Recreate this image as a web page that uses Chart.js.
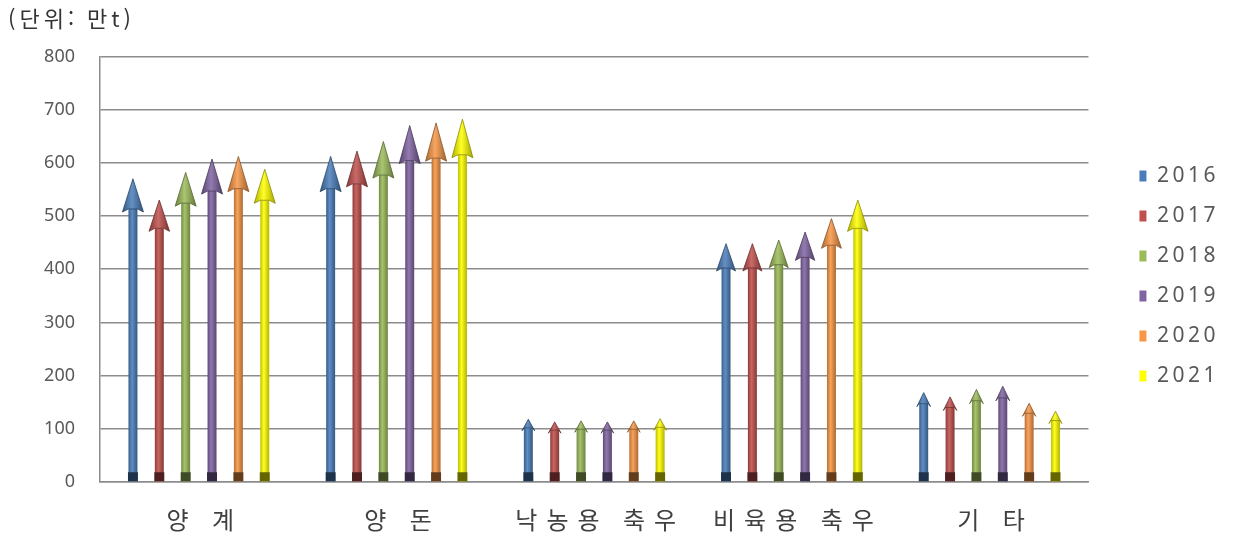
<!DOCTYPE html>
<html lang="ko">
<head>
<meta charset="utf-8">
<title>축종별 가축분뇨 발생량</title>
<script src="https://cdn.jsdelivr.net/npm/chart.js@4.4.1/dist/chart.umd.min.js"></script>
<style>
  html, body { margin: 0; padding: 0; background: #ffffff; }
  #wrap { width: 1234px; height: 536px; position: relative; }
</style>
</head>
<body>
<div id="wrap"><canvas id="chart"></canvas></div>
<script>
// chart data (unit: 만t)
const categories = ['양 계', '양 돈', '낙농용 축우', '비육용 축우', '기 타'];
const years = ['2016', '2017', '2018', '2019', '2020', '2021'];
const v2016 = [570, 612, 118, 448, 168];
const v2017 = [530, 622, 113, 448, 160];
const v2018 = [582, 640, 115, 455, 174];
const v2019 = [607, 670, 113, 470, 180];
const v2020 = [612, 675, 115, 495, 148];
const v2021 = [588, 682, 119, 530, 133];
const yTicks = [0, 100, 200, 300, 400, 500, 600, 700, 800];

const seriesValues = [v2016, v2017, v2018, v2019, v2020, v2021];
const colors = ['#4A7EBB', '#C0504D', '#9BBB59', '#8064A2', '#F79646', '#FFFF00'];

const gridColor = '#8c8c8c';
const textColor = '#595959';

// mix a hex colour with black (amt < 0) or white (amt > 0)
function shade(hex, amt) {
    const n = parseInt(hex.slice(1), 16);
    let r = (n >> 16) & 255, g = (n >> 8) & 255, b = n & 255;
    const t = amt < 0 ? 0 : 255;
    const p = Math.abs(amt);
    r = Math.round(r + (t - r) * p);
    g = Math.round(g + (t - g) * p);
    b = Math.round(b + (t - b) * p);
    return `rgb(${r}, ${g}, ${b})`;
}

// draws every bar of the chart as an arrow, using the bar elements' own geometry
const arrowPlugin = {
    id: 'arrowBars',
    beforeDatasetDraw() {
        return false; // skip default rectangles, arrows are drawn below
    },
    afterDatasetsDraw(chart) {
        const ctx = chart.ctx;
        chart.data.datasets.forEach((ds, di) => {
            const meta = chart.getDatasetMeta(di);
            if (meta.hidden) return;
            const col = ds.backgroundColor;
            meta.data.forEach(bar => {
                const { x, y, base, width } = bar.getProps(['x', 'y', 'base', 'width'], true);
                const len = base - y;
                const hh = 6 + len * 0.09;
                const hw = Math.min(10.5, 4 + hh * 0.2);
                const sw = width / 2;

                ctx.save();
                // shaft
                let g = ctx.createLinearGradient(x - sw, 0, x + sw, 0);
                g.addColorStop(0, shade(col, -0.25));
                g.addColorStop(0.4, shade(col, 0.12));
                g.addColorStop(1, shade(col, -0.3));
                ctx.fillStyle = g;
                ctx.fillRect(x - sw, y + hh - 3, width, base - (y + hh - 3));

                // dark foot
                ctx.fillStyle = shade(col, -0.6);
                ctx.fillRect(x - sw - 0.5, base - 9, width + 1, 9);

                // head
                g = ctx.createLinearGradient(x - hw, 0, x + hw, 0);
                g.addColorStop(0, shade(col, -0.3));
                g.addColorStop(0.45, shade(col, 0.15));
                g.addColorStop(1, shade(col, -0.35));
                ctx.beginPath();
                ctx.moveTo(x, y);
                ctx.lineTo(x + hw, y + hh);
                ctx.lineTo(x + sw, y + hh - 3);
                ctx.lineTo(x - sw, y + hh - 3);
                ctx.lineTo(x - hw, y + hh);
                ctx.closePath();
                ctx.fillStyle = g;
                ctx.fill();
                ctx.strokeStyle = shade(col, -0.45);
                ctx.lineWidth = 0.8;
                ctx.stroke();
                ctx.restore();
            });
        });
    }
};

// wider letter spacing (and an optional shift) for texts, like the reference
function withSpacing(obj, method, spacing, dx, dy) {
    if (!obj || obj['_spaced_' + method]) return;
    const orig = obj[method];
    obj[method] = function (...args) {
        const ctx = this.ctx;
        ctx.save();
        ctx.letterSpacing = spacing;
        ctx.translate(dx || 0, dy || 0);
        const r = orig.apply(this, args);
        ctx.restore();
        return r;
    };
    obj['_spaced_' + method] = true;
}

const legendExtra = 41;

const spacingPlugin = {
    id: 'spacing',
    afterInit(chart) {
        // leave a wider gap between the plot and the legend
        const lg = chart.legend;
        if (lg && !lg._wide) {
            const fit = lg.fit;
            lg.fit = function (...args) {
                const r = fit.apply(this, args);
                this.width += legendExtra;
                return r;
            };
            lg._wide = true;
        }
    },
    beforeDraw(chart) {
        withSpacing(chart.scales.x, 'drawLabels', '9px', 6, 0);
        withSpacing(chart.legend, 'draw', '3.5px', 32, 8);
        withSpacing(chart.titleBlock, 'draw', '4px');
    }
};

const datasets = years.map((yr, i) => ({
    label: yr,
    data: seriesValues[i],
    backgroundColor: colors[i],
    borderWidth: 0,
    categoryPercentage: 0.8,
    barPercentage: 0.34
}));

new Chart(document.getElementById('chart'), {
    type: 'bar',
    data: { labels: categories, datasets: datasets },
    options: {
        responsive: true,
        maintainAspectRatio: false,
        animation: false,
        layout: { padding: { left: 8, right: 10, top: 0, bottom: 0 } },
        plugins: {
            title: {
                display: true,
                text: '(단위: 만t)',
                align: 'start',
                color: '#333333',
                font: { family: '"Noto Sans CJK KR", "Noto Sans", sans-serif', size: 22, weight: 'normal' },
                padding: { top: 5, bottom: 25 }
            },
            legend: {
                position: 'right',
                labels: {
                    boxWidth: 7,
                    boxHeight: 11,
                    padding: 19,
                    color: textColor,
                    font: { family: '"Noto Sans", sans-serif', size: 21 }
                }
            },
            tooltip: { enabled: false }
        },
        scales: {
            y: {
                min: 0,
                max: 800,
                afterBuildTicks: (scale) => { scale.ticks = yTicks.map(v => ({ value: v })); },
                afterFit: (scale) => { scale.width = 92; },
                grid: { color: gridColor, lineWidth: 1.5, drawTicks: false },
                border: { display: true, color: gridColor, width: 1.5 },
                ticks: {
                    padding: 25,
                    color: textColor,
                    font: { family: '"Noto Sans", sans-serif', size: 18 }
                }
            },
            x: {
                afterFit: (scale) => { scale.height = 54; },
                grid: { display: false },
                border: { display: true, color: gridColor, width: 1.5 },
                ticks: {
                    padding: 15,
                    color: '#404040',
                    font: { family: '"Noto Sans CJK KR", sans-serif', size: 24 }
                }
            }
        }
    },
    plugins: [arrowPlugin, spacingPlugin]
});
</script>
</body>
</html>
